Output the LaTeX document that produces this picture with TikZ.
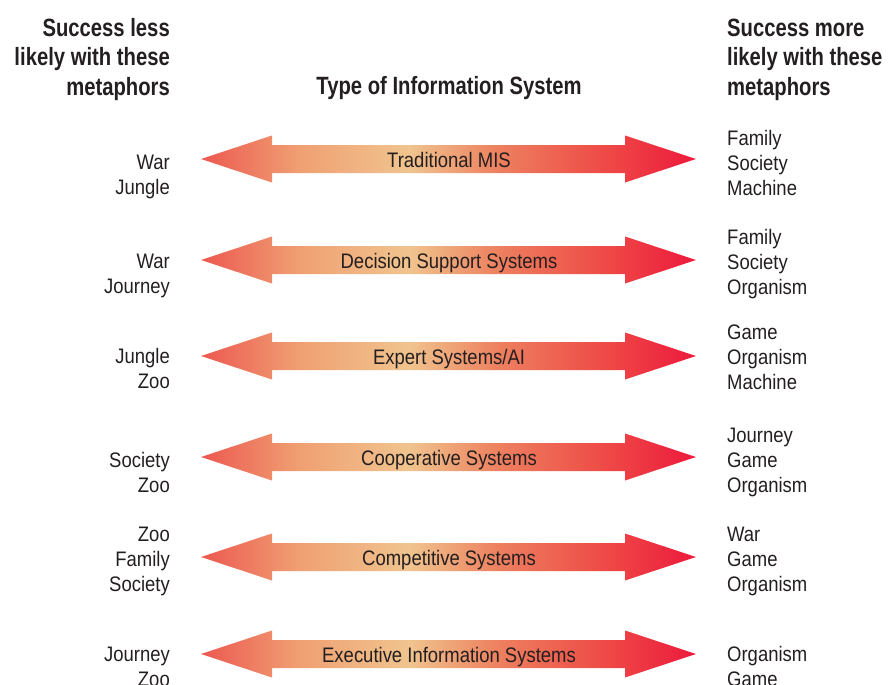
\documentclass[tikz,border=0pt]{standalone}
\usepackage{fontspec}
\setmainfont{Liberation Sans}[FakeStretch=0.88]
\newfontfamily\headfont{Liberation Sans}[FakeStretch=0.81]
\definecolor{ink}{HTML}{231F20}
\definecolor{arA}{RGB}{236,88,80}
\definecolor{arB}{RGB}{240,160,115}
\definecolor{arC}{RGB}{240,196,142}
\definecolor{arD}{RGB}{237,128,95}
\definecolor{arE}{RGB}{238,78,72}
\definecolor{arF}{RGB}{237,26,60}
\pgfdeclarehorizontalshading{arrowfill}{100bp}{color(0bp)=(arA); color(25bp)=(arA); color(35bp)=(arB); color(46bp)=(arC); color(55bp)=(arD); color(65bp)=(arE); color(75bp)=(arF); color(100bp)=(arF)}
\tikzset{
  metaphor/.style={font=\fontsize{21}{25.3}\selectfont, text=ink, inner sep=0pt},
  lesslist/.style={metaphor, align=right, anchor=north east},
  morelist/.style={metaphor, align=left, anchor=north west},
  head/.style={font=\headfont\bfseries\fontsize{25}{29.5}\selectfont, text=ink, inner sep=0pt},
  syslabel/.style={font=\fontsize{21}{25}\selectfont, text=ink, inner sep=0pt, anchor=base},
}
\newcommand\fl{\rule{0pt}{16pt}}
\newcommand\hfl{\rule{0pt}{19pt}}
\begin{document}
\begin{tikzpicture}[x=1pt,y=-1pt]
\clip (0,0) rectangle (889,685);
% headings
\node[head, align=right, anchor=north east] (lesshead) at (170,17) {\hfl Success less\\likely with these\\metaphors};
\node[head, align=left, anchor=north west] (morehead) at (727,17) {\hfl Success more\\likely with these\\metaphors};
\node[head, anchor=base] (typehead) at (449,95) {Type of Information System};
% double arrows with system names
\foreach \c/\sys [count=\i] in {159/Traditional MIS, 260/Decision Support Systems, 356/{Expert Systems/AI}, 457/Cooperative Systems, 557/Competitive Systems, 654/Executive Information Systems}{
  \shade[shading=arrowfill] (201,\c) -- (272,\c-23.5) -- (272,\c-14) -- (625,\c-14) -- (625,\c-23.5) -- (696,\c)
    -- (625,\c+23.5) -- (625,\c+14) -- (272,\c+14) -- (272,\c+23.5) -- cycle;
  \node[syslabel] (sys\i) at (449,\c+8) {\sys};
}
% less likely metaphors
\node[lesslist] (less1) at (170,153) {\fl War\\Jungle};
\node[lesslist] (less2) at (170,252) {\fl War\\Journey};
\node[lesslist] (less3) at (170,347) {\fl Jungle\\Zoo};
\node[lesslist] (less4) at (170,451) {\fl Society\\Zoo};
\node[lesslist] (less5) at (170,525) {\fl Zoo\\Family\\Society};
\node[lesslist] (less6) at (170,645) {\fl Journey\\Zoo};
% more likely metaphors
\node[morelist] (more1) at (727,129) {\fl Family\\Society\\Machine};
\node[morelist] (more2) at (727,228) {\fl Family\\Society\\Organism};
\node[morelist] (more3) at (727,323) {\fl Game\\Organism\\Machine};
\node[morelist] (more4) at (727,426) {\fl Journey\\Game\\Organism};
\node[morelist] (more5) at (727,525) {\fl War\\Game\\Organism};
\node[morelist] (more6) at (727,645) {\fl Organism\\Game};
\end{tikzpicture}
\end{document}
